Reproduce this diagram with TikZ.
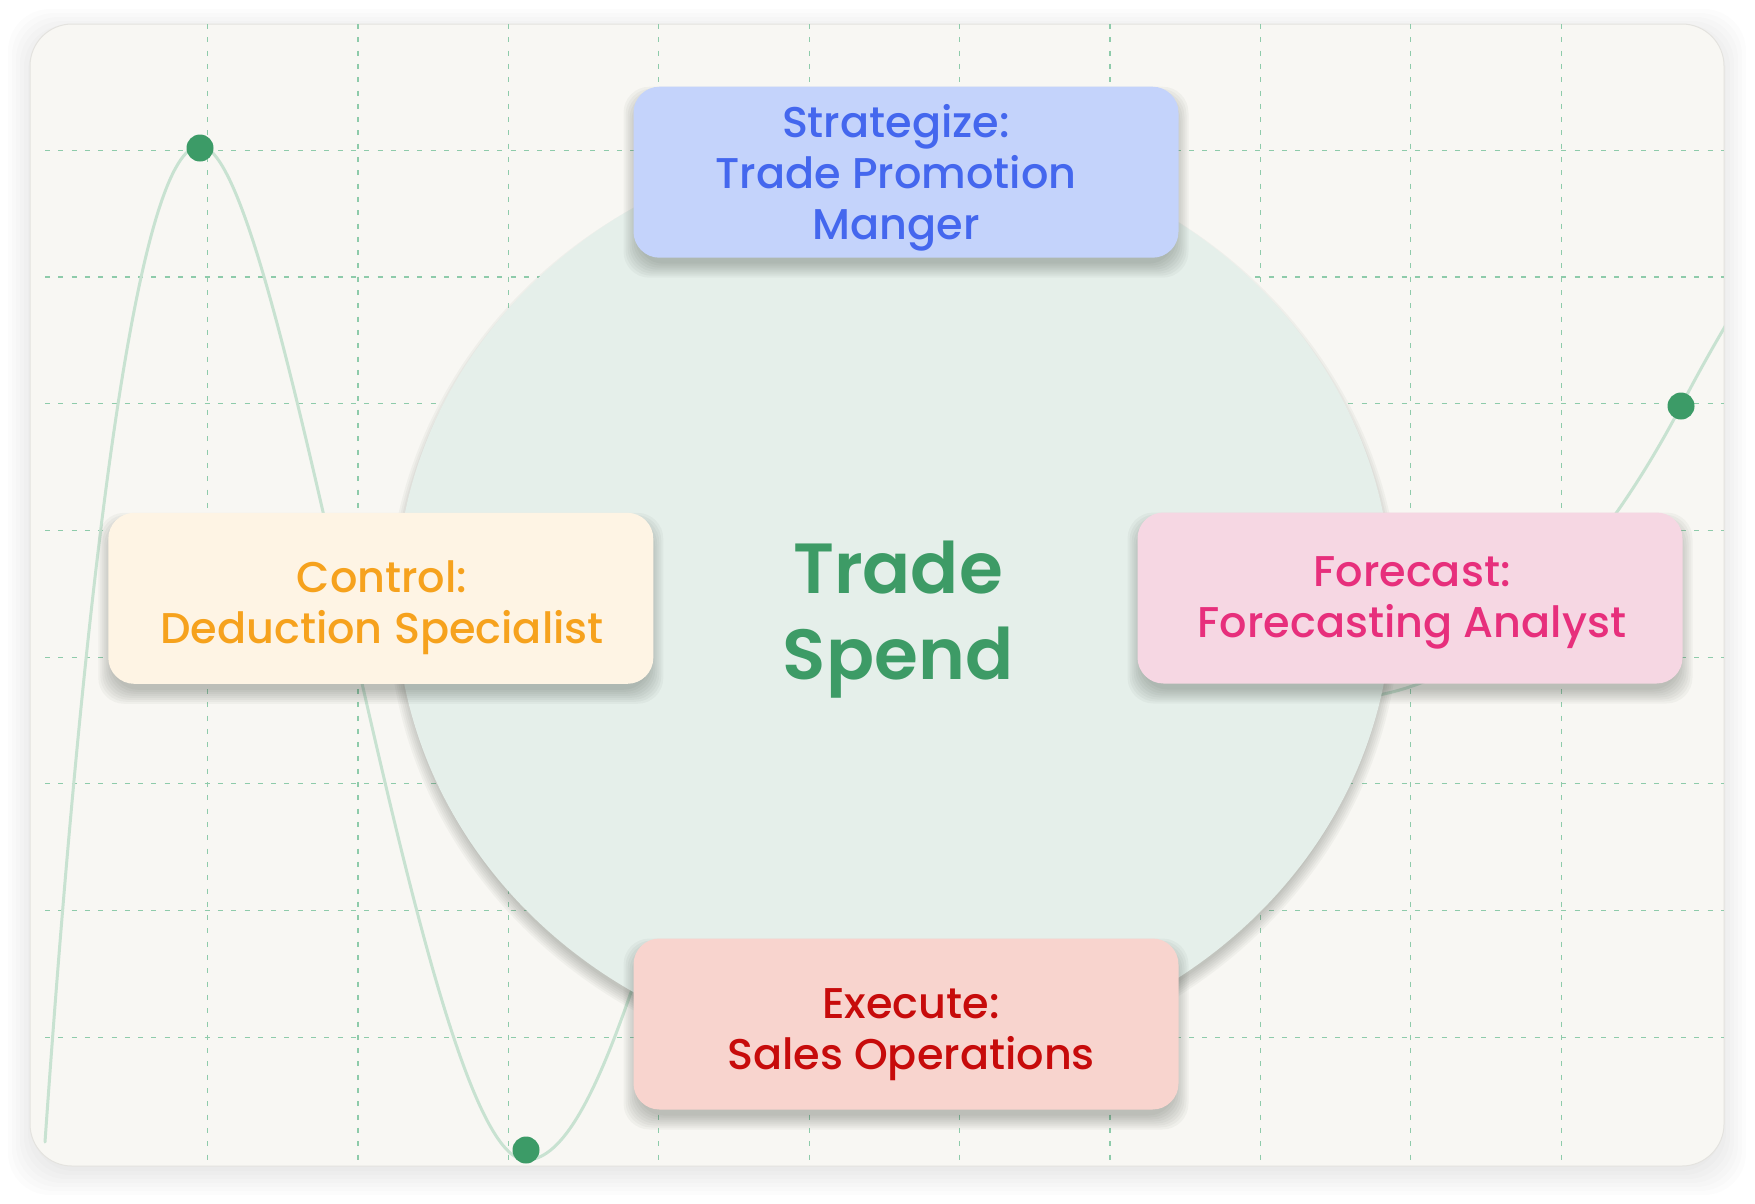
\documentclass[tikz,border=0pt]{standalone}
\usepackage{fontspec}
\IfFontExistsTF{Poppins Medium}{\setmainfont{Poppins Medium}}{\setmainfont{Poppins}}
\IfFontExistsTF{Poppins SemiBold}{\newfontfamily\hubfont{Poppins SemiBold}}{\newfontfamily\hubfont{Poppins}}
\usetikzlibrary{shapes.geometric}
\definecolor{cardbg}{HTML}{F8F7F3}
\definecolor{cardline}{HTML}{E4E3DF}
\definecolor{gridc}{HTML}{8ECBAA}
\definecolor{curvec}{HTML}{C8E2D1}
\definecolor{dotc}{HTML}{3C9B67}
\definecolor{ellc}{HTML}{E5EFEA}
\definecolor{stratfill}{HTML}{C4D3FB}
\definecolor{strattext}{HTML}{4467EE}
\definecolor{ctrlfill}{HTML}{FEF4E4}
\definecolor{ctrltext}{HTML}{F6A21D}
\definecolor{fcstfill}{HTML}{F6D7E3}
\definecolor{fcsttext}{HTML}{E72F7C}
\definecolor{execfill}{HTML}{F8D4CE}
\definecolor{exectext}{HTML}{C70B0B}
\definecolor{tsc}{HTML}{3D9B66}
\definecolor{shadc}{HTML}{3A4038}
% soft shadow of a rounded box: centre x, centre y, width, height
\newcommand\myboxshadow[4]{%
  \foreach \e in {-4,-2,0,2,4,6,8,10}{%
    \fill[shadc, opacity=0.045, rounded corners=26pt]
      ({#1-#3/2-\e},{#2-#4/2-\e+10}) rectangle ({#1+#3/2+\e},{#2+#4/2+\e+10});
  }}
\begin{document}
\begin{tikzpicture}[x=1pt,y=-1pt,
  rolebox/.style={rectangle, rounded corners=26pt, minimum width=545pt, minimum height=171pt, inner sep=0pt},
  boxtext/.style={align=center, inner sep=0pt, font=\fontsize{43}{51}\selectfont},
  gridline/.style={draw=gridc, line width=1.2pt, dash pattern=on 5pt off 8.3pt},
  dot/.style={circle, fill=dotc, minimum size=27pt, inner sep=0pt}]
\useasboundingbox (0,0) rectangle (1755,1203);
\fill[white] (0,0) rectangle (1755,1203);
% card shadow
\foreach \e in {-2,2,6,10,14,18,22}{%
  \fill[shadc, opacity=0.012, rounded corners=42pt]
    ({30-\e},{24-\e+7}) rectangle ({1724+\e},{1166+\e+7});
}
% card
\path[fill=cardbg, draw=cardline, line width=1pt, rounded corners=42pt]
  (30,24) rectangle (1724,1166);
% grid
\foreach \i in {0,...,9}
  \draw[gridline] ({207.6+150.4*\i},24) -- ({207.6+150.4*\i},1166);
\foreach \j in {0,...,7}
  \draw[gridline] (45,{150.3+126.7*\j}) -- (1724,{150.3+126.7*\j});
% curve
\begin{scope}
  \clip[rounded corners=42pt] (30,24) rectangle (1724,1166);
  \draw[curvec, line width=3pt, line cap=round]
    (45,1142) .. controls (87,542) and (140,146) .. (200,146)
    .. controls (285,146) and (420,1160) .. (526,1160)
    .. controls (590,1160) and (640,960) .. (700,780)
    .. controls (800,480) and (1100,760) .. (1388,693)
    .. controls (1500,667) and (1600,560) .. (1681,406)
    .. controls (1710,350) and (1740,300) .. (1790,220);
\end{scope}
% dots
\node[dot] (d1) at (200,148) {};
\node[dot] (d2) at (526,1150) {};
\node[dot] (d3) at (1681,406) {};
% hub shadow and hub
\foreach \e in {-4,-2,0,2,4,6,8}{%
  \fill[shadc, opacity=0.045] (894,609) ellipse [x radius={(498+\e)*1pt}, y radius={(460+\e)*1pt}];
}
\node[ellipse, minimum width=996pt, minimum height=920pt, inner sep=0pt, fill=ellc] (hub) at (894,600) {};
\node[align=center, inner sep=0pt, text=tsc, font=\hubfont\fontsize{71}{86}\selectfont] (hubtext) at (898,619.5) {Trade\\Spend};
% role boxes
\myboxshadow{906}{172.2}{545}{171}
\myboxshadow{380.8}{598.3}{545}{171}
\myboxshadow{1410}{598}{545}{171}
\myboxshadow{906}{1024}{545}{171}
\node[rolebox, fill=stratfill] (strat) at (906,172.2) {};
\node[rolebox, fill=ctrlfill] (ctrl) at (380.8,598.3) {};
\node[rolebox, fill=fcstfill] (fcst) at (1410,598) {};
\node[rolebox, fill=execfill] (exec) at (906,1024) {};
\node[boxtext, text=strattext] (strattxt) at (896,178) {Strategize:\\Trade Promotion\\Manger};
\node[boxtext, text=ctrltext] (ctrltxt) at (382,607.5) {Control:\\Deduction Specialist};
\node[boxtext, text=fcsttext] (fcsttxt) at (1412,602.5) {Forecast:\\Forecasting Analyst};
\node[boxtext, text=exectext] (exectxt) at (911,1034.5) {Execute:\\Sales Operations};
\end{tikzpicture}
\end{document}
